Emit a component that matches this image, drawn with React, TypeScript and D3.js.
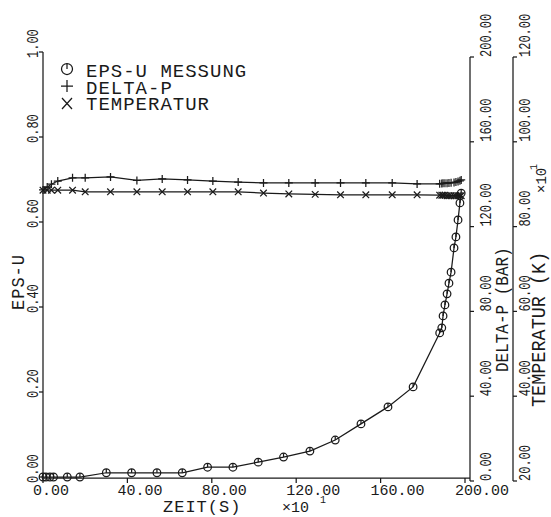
import * as d3 from 'd3';

// EPS-U measurement (time in s x10)
const epsTime = [0, 1.4, 3.3, 5, 11.5, 17.5, 30, 42, 54, 66, 78, 90, 102, 114, 126.5, 138.5, 150.7, 163.5, 175.4, 188, 189, 189.6, 190.5, 191.5, 192.4, 193.4, 194.8, 195.7, 196.7, 197.6, 198.2];
const epsValue = [0, 0, 0, 0, 0, 0, 0.01, 0.01, 0.01, 0.01, 0.023, 0.023, 0.035, 0.047, 0.061, 0.087, 0.125, 0.165, 0.212, 0.339, 0.351, 0.379, 0.405, 0.431, 0.456, 0.482, 0.539, 0.565, 0.605, 0.645, 0.668];

// DELTA-P and TEMPERATUR share their own time points
const pTime = [0, 2, 4, 7, 14, 20, 32, 44.5, 56.5, 68.5, 80.5, 92.5, 104.5, 116.5, 129, 141, 153, 165.5, 177.3, 188, 189, 189.6, 190.5, 191.5, 192.4, 193.4, 194.8, 195.7, 196.7, 197.6, 198.2];
const deltaP = [137.3, 138.7, 140, 141.5, 143, 143, 143.4, 141.8, 142.5, 142, 141.5, 141, 140.6, 140.6, 140.6, 140.6, 140.6, 140.6, 140.1, 140.2, 140.3, 140.4, 140.5, 140.5, 140.6, 140.7, 140.8, 141, 141.3, 141.6, 142];
const temperature = [88.6, 88.6, 88.6, 88.6, 88.6, 88.2, 88.2, 88.2, 88.2, 88.2, 88.2, 88.2, 87.9, 87.7, 87.6, 87.5, 87.5, 87.5, 87.5, 87.4, 87.4, 87.4, 87.4, 87.3, 87.3, 87.3, 87.3, 87.3, 87.3, 87.3, 87.3];

const xTicks = [0, 40, 80, 120, 160, 200];
const epsTicks = [0, 0.2, 0.4, 0.6, 0.8, 1.0];
const pTicks = [0, 40, 80, 120, 160, 200];
const tTicks = [20, 40, 60, 80, 100, 120];

const legendItems = ['EPS-U MESSUNG', 'DELTA-P', 'TEMPERATUR'];

const FONT = '"Liberation Mono", "DejaVu Sans Mono", monospace';
const INK = '#1a1a1a';

// vertical text, reading bottom to top; glyph height stretched by sy
function VText({ x, y, text, size, sy = 1.3, anchor = 'start', spacing = 0 }) {
  return (
    <text
      transform={`translate(${x},${y}) rotate(-90) scale(1,${sy})`}
      fontFamily={FONT}
      fontSize={size}
      letterSpacing={spacing}
      textAnchor={anchor}
      fill={INK}
    >
      {text}
    </text>
  );
}

export default function App() {
  const x = d3.scaleLinear().domain([0, 200]).range([43, 465]);
  const yE = d3.scaleLinear().domain([0, 1]).range([477, 52]);
  const yP = d3.scaleLinear().domain([0, 200]).range([481, 57]);
  const yT = d3.scaleLinear().domain([20, 120]).range([481, 57]);

  const xAxisY = 478;
  const leftX = x(0);
  const p1X = 470;
  const p2X = 513;

  const epsLine = d3.line<number>().x((_, i) => x(epsTime[i])).y(d => yE(d))(epsValue);
  const pLine = d3.line<number>().x((_, i) => x(pTime[i])).y(d => yP(d))(deltaP);
  const tLine = d3.line<number>().x((_, i) => x(pTime[i])).y(d => yT(d))(temperature);

  const sw = 1.25;

  return (
    <svg width={551} height={517} style={{ position: 'absolute', left: 0, top: 0, background: '#fff' }}>
      <rect width={551} height={517} fill="#fff" />
      <g stroke={INK} strokeWidth={sw} fill="none">
        {/* axes */}
        <line x1={leftX} y1={yE(1)} x2={leftX} y2={xAxisY} />
        <line x1={leftX} y1={xAxisY} x2={p1X} y2={xAxisY} />
        <line x1={p1X} y1={yP(200)} x2={p1X} y2={yP(0)} />
        <line x1={p2X} y1={yT(120)} x2={p2X} y2={yT(20)} />
        {epsTicks.map(t => (
          <line key={'le' + t} x1={leftX - 4} x2={leftX} y1={yE(t)} y2={yE(t)} />
        ))}
        {xTicks.map(t => (
          <line key={'bx' + t} x1={x(t)} x2={x(t)} y1={xAxisY} y2={xAxisY + 5} />
        ))}
        {pTicks.map(t => (
          <line key={'rp' + t} x1={p1X} x2={p1X + 4} y1={yP(t)} y2={yP(t)} />
        ))}
        {tTicks.map(t => (
          <line key={'rt' + t} x1={p2X} x2={p2X + 4} y1={yT(t)} y2={yT(t)} />
        ))}

        {/* series */}
        <path d={epsLine} />
        <path d={pLine} />
        <path d={tLine} />

        {epsValue.map((v, i) => {
          const cx = x(epsTime[i]);
          const cy = yE(v);
          return (
            <g key={'c' + i}>
              <circle cx={cx} cy={cy} r={3.8} />
              <line x1={cx} x2={cx} y1={cy - 3.8} y2={cy} />
            </g>
          );
        })}
        {deltaP.map((v, i) => {
          const cx = x(pTime[i]);
          const cy = yP(v);
          return (
            <path key={'p' + i} d={`M${cx - 4},${cy}H${cx + 4}M${cx},${cy - 4}V${cy + 4}`} />
          );
        })}
        {temperature.map((v, i) => {
          const cx = x(pTime[i]);
          const cy = yT(v);
          const s = 3.3;
          return (
            <path key={'t' + i} d={`M${cx - s},${cy - s}L${cx + s},${cy + s}M${cx - s},${cy + s}L${cx + s},${cy - s}`} />
          );
        })}

        {/* legend symbols */}
        <circle cx={67} cy={69} r={5.5} />
        <line x1={67} x2={67} y1={63.5} y2={69} />
        <path d="M61,86H73M67,80V92" />
        <path d="M62,98L72,109M62,109L72,98" />
      </g>

      {/* legend text */}
      {legendItems.map((s, i) => (
        <text key={s} x={86} y={77 + i * 16.5} fontFamily={FONT} fontSize={19} letterSpacing={1} fill={INK}>
          {s}
        </text>
      ))}

      {/* bottom tick labels */}
      {xTicks.map(t => (
        <text key={'xl' + t} x={x(t) - 10} y={495} fontFamily={FONT} fontSize={15} fill={INK}>
          {t.toFixed(2)}
        </text>
      ))}
      <text x={163} y={512} fontFamily={FONT} fontSize={17} letterSpacing={1} fill={INK}>ZEIT(S)</text>
      <text x={282} y={512} fontFamily={FONT} fontSize={15} fill={INK}>×10</text>
      <text x={320} y={503} fontFamily={FONT} fontSize={10} fill={INK}>1</text>

      {/* left tick labels */}
      {epsTicks.map(t => (
        <VText key={'yl' + t} x={38} y={yE(t) + 6} text={t.toFixed(2)} size={12} />
      ))}
      <VText x={24} y={310} text="EPS-U" size={17} sy={1.1} spacing={1} />

      {/* DELTA-P tick labels */}
      {pTicks.map(t => (
        <VText key={'pl' + t} x={491} y={yP(t)} text={t.toFixed(2)} size={12} />
      ))}
      <VText x={508} y={372} text="DELTA-P (BAR)" size={16} sy={1.1} />

      {/* TEMPERATUR tick labels */}
      {tTicks.map(t => (
        <VText key={'tl' + t} x={530} y={yT(t)} text={t.toFixed(2)} size={12} />
      ))}
      <VText x={545} y={407} text="TEMPERATUR (K)" size={18.5} sy={1.05} />
      <VText x={546} y={193} text="×10" size={14} sy={1.1} />
      <VText x={537} y={170} text="1" size={10} sy={1.1} />
    </svg>
  );
}
